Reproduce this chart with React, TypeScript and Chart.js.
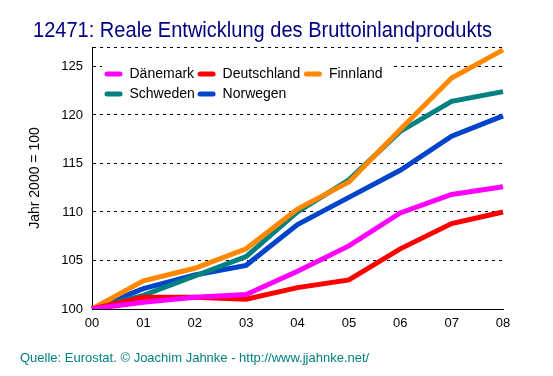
import React, { useEffect, useRef } from "react";
import { Chart, registerables } from "chart.js";

Chart.register(...registerables);

const years = ["00", "01", "02", "03", "04", "05", "06", "07", "08"];
const daenemark = [100, 100.7, 101.2, 101.5, 103.9, 106.5, 109.9, 111.8, 112.6];
const deutschland = [100, 101.2, 101.2, 101.0, 102.2, 103.0, 106.2, 108.8, 110.0];
const finnland = [100, 102.9, 104.2, 106.2, 110.3, 113.1, 118.5, 123.8, 126.7];
const schweden = [100, 101.4, 103.4, 105.4, 110.0, 113.3, 118.3, 121.4, 122.4];
const norwegen = [100, 102.1, 103.5, 104.5, 108.7, 111.5, 114.3, 117.8, 119.9];

const seriesNames = ["Dänemark", "Deutschland", "Finnland", "Schweden", "Norwegen"];
const seriesColors = ["#FF00FF", "#FF0000", "#FF8800", "#008080", "#0044CC"];

const titleText = "12471: Reale Entwicklung des Bruttoinlandprodukts";
const yAxisTitle = "Jahr 2000 = 100";
const footerText = "Quelle: Eurostat. © Joachim Jahnke - http://www.jjahnke.net/";

const FONT = "'Liberation Sans', Arial, sans-serif";

const decorPlugin = {
  id: "decor",
  afterDraw(chart: any) {
    const ctx = chart.ctx;
    const area = chart.chartArea;
    ctx.save();
    // title (fit to the width of the original)
    ctx.fillStyle = "#000080";
    ctx.font = `22px ${FONT}`;
    ctx.textAlign = "left";
    ctx.textBaseline = "alphabetic";
    const tw = ctx.measureText(titleText).width;
    const targetW = 459;
    ctx.save();
    ctx.translate(33, 37);
    ctx.scale(targetW / tw, 1);
    ctx.fillText(titleText, 0, 0);
    ctx.restore();
    // y axis title
    ctx.save();
    ctx.translate(35, (area.top + area.bottom) / 2);
    ctx.rotate(-Math.PI / 2);
    ctx.fillStyle = "#000000";
    ctx.font = `14px ${FONT}`;
    ctx.textAlign = "center";
    ctx.textBaseline = "middle";
    ctx.fillText(yAxisTitle, 0, 0);
    ctx.restore();
    // footer
    ctx.fillStyle = "#008080";
    ctx.font = `13px ${FONT}`;
    ctx.textAlign = "left";
    ctx.textBaseline = "middle";
    ctx.fillText(footerText, 20, 358);
    // legend
    const lx = area.left + 10;
    const ly = area.top + 13;
    ctx.fillStyle = "#FFFFFF";
    ctx.fillRect(lx, ly, 289, 45);
    ctx.font = `14px ${FONT}`;
    ctx.textBaseline = "middle";
    ctx.textAlign = "left";
    const rowY = [area.top + 27, area.top + 47];
    const colX: number[] = [];
    let x = area.left + 13;
    for (let i = 0; i < 3; i++) {
      colX.push(x);
      x += 24.5 + ctx.measureText(seriesNames[i]).width + 4;
    }
    seriesNames.forEach((name, i) => {
      const row = i < 3 ? 0 : 1;
      const col = i < 3 ? i : i - 3;
      const sx = colX[col];
      const sy = rowY[row];
      ctx.strokeStyle = seriesColors[i];
      ctx.lineWidth = 5;
      ctx.lineCap = "round";
      ctx.beginPath();
      ctx.moveTo(sx + 2, sy);
      ctx.lineTo(sx + 15, sy);
      ctx.stroke();
      ctx.fillStyle = "#000000";
      ctx.fillText(name, sx + 24.5, sy);
    });
    ctx.restore();
  },
};

export default function App() {
  const ref = useRef<HTMLCanvasElement | null>(null);
  useEffect(() => {
    if (!ref.current) return;
    const data = [daenemark, deutschland, finnland, schweden, norwegen];
    const chart = new Chart(ref.current, {
      type: "line",
      data: {
        labels: years,
        datasets: data.map((d, i) => ({
          label: seriesNames[i],
          data: d,
          borderColor: seriesColors[i],
          backgroundColor: seriesColors[i],
          borderWidth: 5,
          pointRadius: 0,
          tension: 0,
          fill: false,
        })),
      },
      options: {
        responsive: false,
        animation: false,
        events: [],
        layout: { padding: { top: 47, right: 50, left: 0, bottom: 0 } },
        plugins: {
          legend: { display: false },
          title: { display: false },
          tooltip: { enabled: false },
        },
        scales: {
          x: {
            offset: false,
            grid: { display: false, drawTicks: false },
            border: { display: true, color: "#000000", width: 1 },
            ticks: {
              color: "#000000",
              font: { family: FONT, size: 13 },
              padding: 7,
              maxRotation: 0,
            },
            afterFit: (s: any) => {
              s.height = 67;
            },
          },
          y: {
            min: 100,
            max: 127,
            grid: {
              drawTicks: false,
              color: (c: any) => (c.tick && c.tick.value === 100 ? "rgba(0,0,0,0)" : "#000000"),
              lineWidth: 1,
            },
            border: { display: true, color: "#000000", width: 1, dash: [3, 4] },
            ticks: {
              stepSize: 5,
              color: "#000000",
              font: { family: FONT, size: 13 },
              padding: 9,
              callback: (v: any) => (v % 5 === 0 ? String(v) : ""),
            },
            afterFit: (s: any) => {
              s.width = 92;
            },
          },
        },
      },
      plugins: [decorPlugin],
    });
    return () => chart.destroy();
  }, []);
  return (
    <div style={{ position: "fixed", left: 0, top: 0, width: 553, height: 376, background: "#fff" }}>
      <canvas ref={ref} width={553} height={376} style={{ width: 553, height: 376 }} />
    </div>
  );
}
